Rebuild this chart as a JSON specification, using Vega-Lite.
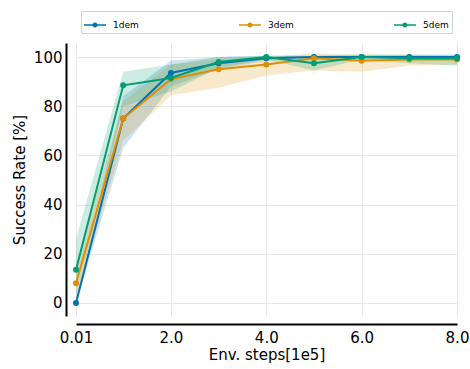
{
  "$schema": "https://vega.github.io/schema/vega-lite/v6.json",
  "width": 381,
  "height": 273,
  "autosize": {"type": "none"},
  "padding": {"left": 76, "top": 43, "right": 13, "bottom": 53},
  "background": "white",
  "config": {
    "view": {"stroke": null},
    "font": "DejaVu Sans",
    "axis": {
      "domainColor": "black",
      "domainWidth": 2,
      "ticks": false,
      "gridColor": "#e8e8e8",
      "gridWidth": 1,
      "labelFont": "DejaVu Sans",
      "labelFontSize": 15,
      "labelColor": "black",
      "titleFont": "DejaVu Sans",
      "titleFontSize": 15,
      "titleFontWeight": "normal",
      "titleColor": "black"
    }
  },
  "data": {
    "values": [
      {"series": "1dem", "x": 0.01, "mean": 0, "lo": 0, "hi": 2},
      {"series": "1dem", "x": 1, "mean": 75, "lo": 63, "hi": 84},
      {"series": "1dem", "x": 2, "mean": 93.5, "lo": 88, "hi": 98.5},
      {"series": "1dem", "x": 3, "mean": 97.5, "lo": 95, "hi": 100},
      {"series": "1dem", "x": 4, "mean": 99.5, "lo": 98.5, "hi": 100.5},
      {"series": "1dem", "x": 5, "mean": 100, "lo": 99.5, "hi": 100.5},
      {"series": "1dem", "x": 6, "mean": 100, "lo": 99.5, "hi": 100.5},
      {"series": "1dem", "x": 7, "mean": 100, "lo": 99.5, "hi": 100.5},
      {"series": "1dem", "x": 8, "mean": 100, "lo": 99.5, "hi": 100.5},
      {"series": "3dem", "x": 0.01, "mean": 8, "lo": 2, "hi": 15},
      {"series": "3dem", "x": 1, "mean": 75, "lo": 66, "hi": 82},
      {"series": "3dem", "x": 2, "mean": 91, "lo": 84.5, "hi": 97},
      {"series": "3dem", "x": 3, "mean": 95, "lo": 87.5, "hi": 99},
      {"series": "3dem", "x": 4, "mean": 97, "lo": 92.5, "hi": 100},
      {"series": "3dem", "x": 5, "mean": 99.5, "lo": 94.5, "hi": 101.5},
      {"series": "3dem", "x": 6, "mean": 98.5, "lo": 94, "hi": 101},
      {"series": "3dem", "x": 7, "mean": 99, "lo": 96.5, "hi": 101},
      {"series": "3dem", "x": 8, "mean": 99, "lo": 97, "hi": 100.5},
      {"series": "5dem", "x": 0.01, "mean": 13.5, "lo": 3, "hi": 26},
      {"series": "5dem", "x": 1, "mean": 88.5, "lo": 80, "hi": 94},
      {"series": "5dem", "x": 2, "mean": 91.5, "lo": 86, "hi": 97},
      {"series": "5dem", "x": 3, "mean": 98, "lo": 95.5, "hi": 100},
      {"series": "5dem", "x": 4, "mean": 100, "lo": 99, "hi": 100.5},
      {"series": "5dem", "x": 5, "mean": 97.5, "lo": 94.5, "hi": 100.5},
      {"series": "5dem", "x": 6, "mean": 100, "lo": 99, "hi": 101},
      {"series": "5dem", "x": 7, "mean": 99.5, "lo": 97.5, "hi": 101},
      {"series": "5dem", "x": 8, "mean": 99.5, "lo": 96.5, "hi": 101}
    ]
  },
  "encoding": {
    "x": {
      "field": "x",
      "type": "quantitative",
      "scale": {"domain": [0.01, 8], "nice": false, "zero": false},
      "axis": {
        "title": "Env. steps[1e5]",
        "values": [0.01, 2, 4, 6, 8],
        "labelExpr": "datum.value == 0.01 ? '0.01' : format(datum.value, '.1f')",
        "offset": 8,
        "labelPadding": 6,
        "titlePadding": 2,
        "labelFlush": false,
        "labelOverlap": false
      }
    },
    "color": {
      "field": "series",
      "type": "nominal",
      "scale": {"domain": ["1dem", "3dem", "5dem"], "range": ["#0173B2", "#DE8F05", "#029E73"]},
      "legend": {
        "title": null,
        "orient": "none",
        "legendX": 5,
        "legendY": -32,
        "direction": "horizontal",
        "columns": 3,
        "columnPadding": 100,
        "padding": 3,
        "strokeColor": "#d0d0d0",
        "fillColor": "white",
        "labelFont": "DejaVu Sans",
        "labelFontSize": 9,
        "labelColor": "black",
        "labelOffset": 7,
        "symbolSize": 484,
        "symbolStrokeWidth": 0,
        "symbolOpacity": 1,
        "symbolType": "M-1,-0.065H-0.22V0.065H-1Z M0.22,-0.065H1V0.065H0.22Z M0.23,0A0.23,0.23,0,1,1,-0.23,0A0.23,0.23,0,1,1,0.23,0Z"
      }
    }
  },
  "layer": [
    {
      "mark": {"type": "area", "opacity": 0.2},
      "encoding": {
        "y": {"field": "lo", "type": "quantitative"},
        "y2": {"field": "hi"}
      }
    },
    {
      "mark": {"type": "line", "strokeWidth": 2},
      "encoding": {
        "y": {
          "field": "mean",
          "type": "quantitative",
          "scale": {"domain": [-5.3, 105.7], "nice": false, "zero": false},
          "axis": {
            "title": "Success Rate [%]",
            "values": [0, 20, 40, 60, 80, 100],
            "offset": 10,
            "labelPadding": 4,
            "titlePadding": 6
          }
        }
      }
    },
    {
      "mark": {"type": "point", "filled": true, "size": 36, "opacity": 1},
      "encoding": {
        "y": {"field": "mean", "type": "quantitative"}
      }
    }
  ]
}
